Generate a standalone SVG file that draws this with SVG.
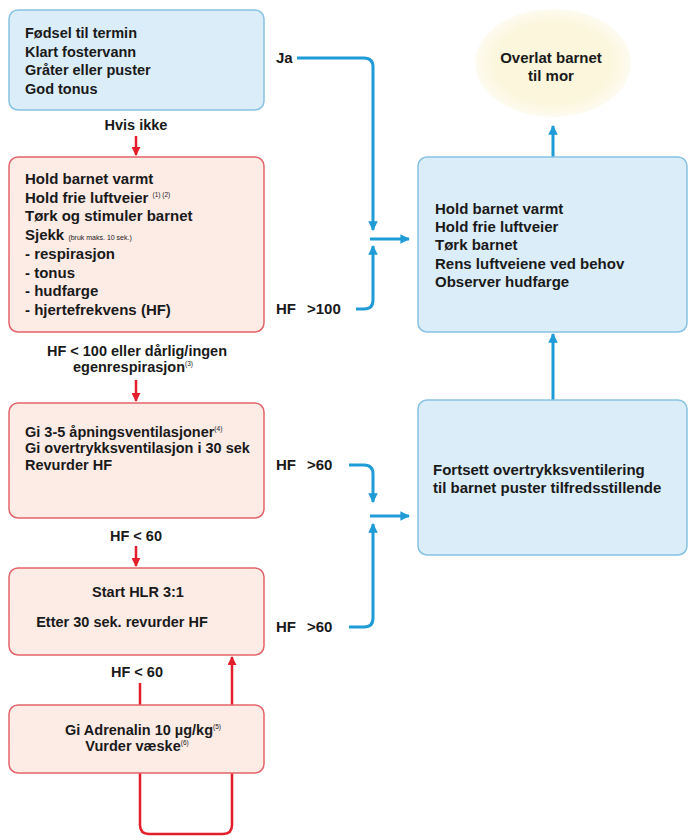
<svg xmlns="http://www.w3.org/2000/svg" width="688" height="840" viewBox="0 0 688 840">
<style>
text{font-family:"Liberation Sans",Arial,sans-serif;font-weight:bold;fill:#1a1a1a;font-size:14.5px}
.big{font-size:15px}
.c{text-anchor:middle}
.sup{font-size:6.5px;font-weight:normal}
.small{font-size:7px;font-weight:normal}
.bbox{fill:#dbedf8;stroke:#86c2e2;stroke-width:1.5}
.rbox{fill:#fdebe6;stroke:#e2646a;stroke-width:1.5}
.bl{fill:none;stroke:#1f9bd7;stroke-width:3}
.rl{fill:none;stroke:#e31e2a;stroke-width:2.5}
</style>
<defs>
<marker id="ab" viewBox="0 0 10 10" refX="9" refY="5" markerWidth="3.2" markerHeight="3.2" orient="auto" markerUnits="strokeWidth"><path d="M0,0 L10,5 L0,10 z" fill="#1f9bd7"/></marker>
<marker id="ar" viewBox="0 0 10 10" refX="9" refY="5" markerWidth="3.6" markerHeight="3.6" orient="auto" markerUnits="strokeWidth"><path d="M0,0 L10,5 L0,10 z" fill="#e31e2a"/></marker>
<radialGradient id="eg" cx="0.5" cy="0.5" r="0.5"><stop offset="0.75" stop-color="#fbf6dc"/><stop offset="1" stop-color="#fbf6dc" stop-opacity="0.4"/></radialGradient>
</defs>
<rect width="688" height="840" fill="#ffffff"/>

<g id="connectors">
<path class="rl" d="M136 136 V155" marker-end="url(#ar)"/>
<path class="rl" d="M136 380 V401" marker-end="url(#ar)"/>
<path class="rl" d="M136 546 V566" marker-end="url(#ar)"/>
<path class="rl" d="M140 602 V612" marker-end="url(#ar)"/>
<path class="rl" d="M140 683 V705"/>
<path class="rl" d="M232 705 V657" marker-end="url(#ar)"/>
<path class="rl" d="M140 773 V825 Q140 834 149 834 H223 Q232 834 232 825 V773"/>
<path class="bl" d="M297 58 H364 Q373 58 373 67 V230" marker-end="url(#ab)"/>
<path class="bl" d="M356 309 H364 Q373 309 373 300 V246" marker-end="url(#ab)"/>
<path class="bl" d="M370 239 H409" marker-end="url(#ab)"/>
<path class="bl" d="M553 157 V126" marker-end="url(#ab)"/>
<path class="bl" d="M553 400 V334" marker-end="url(#ab)"/>
<path class="bl" d="M349 465 H364 Q373 465 373 474 V502" marker-end="url(#ab)"/>
<path class="bl" d="M349 627 H364 Q373 627 373 618 V524" marker-end="url(#ab)"/>
<path class="bl" d="M370 516 H409" marker-end="url(#ab)"/>
</g>

<g id="labels">
<text class="c" x="136" y="130">Hvis ikke</text>
<text class="c" x="137" y="356">HF &lt; 100 eller dårlig/ingen</text>
<text class="c" x="133" y="372">egenrespirasjon<tspan class="sup" dy="-6">(3)</tspan></text>
<text class="c" x="136" y="541">HF &lt; 60</text>
<text class="c" x="137" y="677">HF &lt; 60</text>
<text class="big" x="276" y="63">Ja</text>
<text class="big" x="276" y="314">HF</text><text class="big" x="307" y="314">&gt;100</text>
<text class="big" x="276" y="470">HF</text><text class="big" x="307" y="470">&gt;60</text>
<text class="big" x="276" y="632">HF</text><text class="big" x="307" y="632">&gt;60</text>
</g>

<g id="n1">
<rect class="bbox" x="9" y="10" width="255" height="100" rx="9"/>
<text x="25" y="38">Fødsel til termin</text>
<text x="25" y="57">Klart fostervann</text>
<text x="25" y="75">Gråter eller puster</text>
<text x="25" y="94">God tonus</text>
</g>

<g id="n2">
<rect class="rbox" x="9" y="157" width="255" height="175" rx="9"/>
<text class="big" x="25" y="184">Hold barnet varmt</text>
<text class="big" x="25" y="203">Hold frie luftveier <tspan class="sup" dy="-6">(1) (2)</tspan></text>
<text class="big" x="25" y="221">Tørk og stimuler barnet</text>
<text class="big" x="25" y="240">Sjekk <tspan class="small">(bruk maks. 10 sek.)</tspan></text>
<text class="big" x="25" y="259">- respirasjon</text>
<text class="big" x="25" y="278">- tonus</text>
<text class="big" x="25" y="296">- hudfarge</text>
<text class="big" x="25" y="315">- hjertefrekvens (HF)</text>
</g>

<g id="n3">
<rect class="rbox" x="9" y="403" width="255" height="115" rx="9"/>
<text x="25" y="437">Gi 3-5 åpningsventilasjoner<tspan class="sup" dy="-6">(4)</tspan></text>
<text x="25" y="453">Gi overtrykksventilasjon i 30 sek</text>
<text x="25" y="470">Revurder HF</text>
</g>

<g id="n4">
<rect class="rbox" x="9" y="568" width="255" height="87" rx="9"/>
<text class="c" x="138" y="597">Start HLR 3:1</text>
<text class="c" x="122" y="627">Etter 30 sek. revurder HF</text>
</g>

<g id="n5">
<rect class="rbox" x="9" y="705" width="255" height="68" rx="9"/>
<text class="c" x="143" y="735">Gi Adrenalin 10 µg/kg<tspan class="sup" dy="-6">(5)</tspan></text>
<text class="c" x="137" y="751">Vurder væske<tspan class="sup" dy="-6">(6)</tspan></text>
</g>

<g id="n6">
<ellipse cx="553" cy="63" rx="78" ry="54" fill="url(#eg)"/>
<text class="c big" x="551" y="63">Overlat barnet</text>
<text class="c big" x="551" y="81">til mor</text>
</g>

<g id="n7">
<rect class="bbox" x="418" y="157" width="269" height="175" rx="9"/>
<text class="big" x="435" y="214">Hold barnet varmt</text>
<text class="big" x="435" y="232">Hold frie luftveier</text>
<text class="big" x="435" y="250">Tørk barnet</text>
<text class="big" x="435" y="269">Rens luftveiene ved behov</text>
<text class="big" x="435" y="287">Observer hudfarge</text>
</g>

<g id="n8">
<rect class="bbox" x="418" y="400" width="269" height="155" rx="9"/>
<text class="big" x="433" y="475">Fortsett overtrykksventilering</text>
<text class="big" x="433" y="493">til barnet puster tilfredsstillende</text>
</g>
</svg>
